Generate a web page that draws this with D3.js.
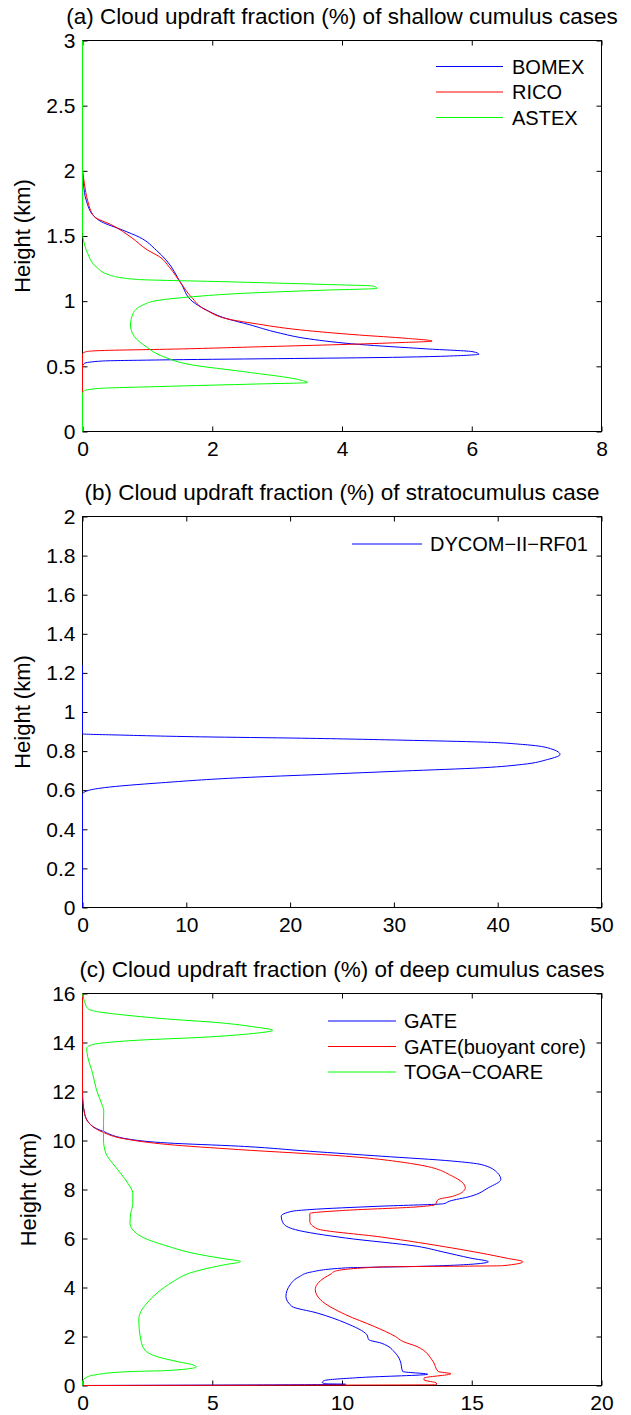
<!DOCTYPE html>
<html>
<head>
<meta charset="utf-8">
<script src="https://cdn.jsdelivr.net/npm/d3@7"></script>
<style>
  html, body { margin: 0; padding: 0; background: #fff; }
  svg { display: block; }
  text { font-family: "Liberation Sans", Arial, Helvetica, sans-serif; fill: #000; }
</style>
</head>
<body>
<svg id="fig" width="631" height="1415"></svg>
<script>
// Cloud updraft fraction profiles: each point is [fraction (%), height (km)], bottom to top.

// (a) shallow cumulus cases
const bomex = [[0,0],[0,0.50],[0.03,0.523],[0.31,0.541],[1.19,0.549],[4.78,0.569],[6.0,0.587],[6.11,0.592],
  [6.02,0.612],[5.30,0.634],[4.27,0.668],[3.50,0.71],[3.0,0.76],[2.57,0.82],[2.21,0.868],[1.91,0.932],
  [1.70,0.996],[1.52,1.136],[1.29,1.315],[1.14,1.39],[0.88,1.49],[0.62,1.545],[0.29,1.61],[0.18,1.65],
  [0.06,1.77],[0.015,1.90],[0,2.0]];
const rico = [[0,0],[0,0.595],[0.06,0.613],[0.42,0.623],[1.19,0.63],[2.73,0.65],[4.78,0.68],[5.39,0.694],
  [4.99,0.715],[4.27,0.74],[3.35,0.78],[2.63,0.83],[2.32,0.855],[1.91,0.93],[1.68,1.03],[1.52,1.136],
  [1.34,1.26],[1.19,1.34],[1.01,1.39],[0.75,1.49],[0.47,1.58],[0.18,1.65],[0.08,1.77],[0.03,1.90],[0,2.0]];
const astex = [[0,0],[0,0.294],[0.03,0.314],[0.31,0.332],[1.19,0.345],[2.73,0.365],[3.47,0.375],[3.35,0.396],
  [2.47,0.46],[1.70,0.51],[1.25,0.574],[0.98,0.651],[0.80,0.728],[0.74,0.817],[0.78,0.906],[0.93,0.97],
  [1.19,1.008],[1.70,1.034],[2.47,1.06],[3.76,1.085],[4.54,1.098],[4.48,1.116],[3.76,1.128],[2.21,1.149],
  [0.83,1.167],[0.42,1.20],[0.21,1.264],[0.08,1.366],[0.015,1.468],[0,1.52],[0,3.0]];

// (b) stratocumulus case
const dycom = [[0,0],[0,0.579],[0.4,0.596],[2.1,0.613],[7.6,0.638],[15.3,0.664],[23.1,0.681],[30.8,0.698],
  [38.6,0.715],[42.4,0.732],[44.8,0.757],[46.0,0.783],[44.8,0.817],[42.4,0.834],[38.6,0.846],[30.8,0.856],
  [21.1,0.866],[11.4,0.873],[3.7,0.882],[0,0.888],[0,1.24]];

// (c) deep cumulus cases
const gate = [[0,0],[10.14,0.05],[9.38,0.07],[9.24,0.12],[9.31,0.20],[10.78,0.33],[13.3,0.46],[12.34,0.57],
  [12.3,0.71],[12.27,0.91],[12.06,1.32],[11.51,1.73],[11.03,1.87],[10.96,2.07],[10.14,2.55],[9.04,2.96],
  [8.07,3.23],[7.84,3.64],[8.0,4.11],[8.37,4.45],[8.76,4.62],[10.14,4.80],[12.9,4.86],[15.12,4.96],
  [15.64,5.05],[14.95,5.2],[13.9,5.45],[12.9,5.68],[10.14,6.02],[8.21,6.36],[7.73,6.63],[7.66,6.91],
  [8.07,7.11],[8.76,7.18],[11.51,7.32],[13.92,7.42],[14.13,7.52],[14.95,7.72],[15.64,8.07],[16.12,8.41],
  [15.99,8.68],[15.36,9.02],[14.26,9.16],[11.51,9.36],[8.76,9.56],[6.01,9.77],[3.26,9.90],[1.88,10.04],
  [0.78,10.38],[0.37,10.59],[0.08,11.1],[0,11.92],[0,16]];
const gateCore = [[0,0],[13.64,0.03],[13.64,0.10],[13.16,0.23],[13.16,0.30],[14.2,0.48],[13.71,0.57],
  [13.51,0.98],[12.89,1.59],[12.34,1.80],[12.06,2.0],[11.24,2.41],[10.14,2.89],[9.17,3.5],[8.97,3.91],
  [9.31,4.39],[9.59,4.56],[9.72,4.66],[11.51,4.84],[16.19,4.89],[16.97,5.05],[16.33,5.2],[14.26,5.61],
  [11.51,6.06],[9.04,6.40],[8.76,6.70],[8.76,7.02],[10.14,7.15],[12.89,7.29],[13.58,7.38],[13.71,7.59],
  [14.26,7.72],[14.68,7.93],[14.75,8.07],[14.26,8.54],[12.89,9.02],[10.14,9.36],[6.01,9.63],[3.26,9.84],
  [1.61,10.07],[0.78,10.34],[0.37,10.59],[0.08,11.1],[0,11.92],[0,16]];
const togaCoare = [[0,0],[0,0.15],[0.1,0.30],[0.51,0.44],[1.88,0.57],[3.26,0.61],[4.39,0.76],[4.26,0.84],
  [3.64,0.98],[2.87,1.18],[2.40,1.45],[2.25,1.86],[2.17,2.68],[2.25,3.02],[2.48,3.36],[2.87,3.77],
  [3.49,4.24],[4.11,4.58],[4.57,4.72],[5.43,4.92],[6.09,5.06],[5.35,5.19],[4.26,5.40],[3.33,5.67],
  [2.40,6.01],[1.94,6.35],[1.83,6.62],[1.86,7.03],[1.94,7.44],[1.94,7.84],[1.75,8.25],[1.47,8.66],
  [1.16,9.07],[0.9,9.48],[0.81,10.02],[0.81,10.7],[0.82,11.24],[0.78,11.38],[0.54,12.06],[0.39,12.74],
  [0.2,13.42],[0.16,13.76],[0.31,13.89],[0.85,13.99],[2.25,14.1],[4.57,14.21],[6.59,14.37],[7.33,14.5],
  [6.59,14.64],[5.35,14.8],[3.02,14.98],[1.63,15.12],[0.62,15.25],[0.2,15.39],[0.08,15.66],[0,16]];

// Axis ticks
const xTicksA = [0, 2, 4, 6, 8];
const yTicksA = [0, 0.5, 1, 1.5, 2, 2.5, 3];
const xTicksB = [0, 10, 20, 30, 40, 50];
const yTicksB = [0, 0.2, 0.4, 0.6, 0.8, 1, 1.2, 1.4, 1.6, 1.8, 2];
const xTicksC = [0, 5, 10, 15, 20];
const yTicksC = [0, 2, 4, 6, 8, 10, 12, 14, 16];

// Titles and legend names
const titles = [
  "(a) Cloud updraft fraction (%) of shallow cumulus cases",
  "(b) Cloud updraft fraction (%) of stratocumulus case",
  "(c) Cloud updraft fraction (%) of deep cumulus cases"
];
const namesA = ["BOMEX", "RICO", "ASTEX"];
const namesB = ["DYCOM\u2212II\u2212RF01"];
const namesC = ["GATE", "GATE(buoyant core)", "TOGA\u2212COARE"];

const BLUE = "#0000ff", RED = "#ff0000", GREEN = "#00ff00";
const svg = d3.select("#fig");

const panels = [
  { title: titles[0], top: 40.5, bottom: 431.5, xMax: 8, yMax: 3, xTicks: xTicksA, yTicks: yTicksA,
    series: [bomex, rico, astex], colors: [BLUE, RED, GREEN], names: namesA,
    legend: { x0: 436, x1: 503, tx: 512, y: 66.5, dy: 25.5 }, ylabX: 30 },
  { title: titles[1], top: 516.5, bottom: 907.5, xMax: 50, yMax: 2, xTicks: xTicksB, yTicks: yTicksB,
    series: [dycom], colors: [BLUE], names: namesB,
    legend: { x0: 352, x1: 422, tx: 430, y: 544, dy: 25.5 }, ylabX: 30 },
  { title: titles[2], top: 993.5, bottom: 1385.5, xMax: 20, yMax: 16, xTicks: xTicksC, yTicks: yTicksC,
    series: [gate, gateCore, togaCoare], colors: [BLUE, RED, GREEN], names: namesC,
    legend: { x0: 328, x1: 396, tx: 404, y: 1021, dy: 25.5 }, ylabX: 36 }
];

const left = 82.5, right = 601.5, tick = 5;

panels.forEach(p => {
  const x = d3.scaleLinear().domain([0, p.xMax]).range([left, right]);
  const y = d3.scaleLinear().domain([0, p.yMax]).range([p.bottom, p.top]);
  const g = svg.append("g");

  // inward ticks on all four sides
  const fmt = d => String(d);
  g.append("g").attr("transform", `translate(0,${p.bottom})`)
    .call(d3.axisBottom(x).tickValues(p.xTicks).tickFormat(fmt).tickSizeInner(-tick).tickSizeOuter(0).tickPadding(10));
  g.append("g").attr("transform", `translate(0,${p.top})`)
    .call(d3.axisTop(x).tickValues(p.xTicks).tickFormat("").tickSizeInner(-tick).tickSizeOuter(0));
  g.append("g").attr("transform", `translate(${left},0)`)
    .call(d3.axisLeft(y).tickValues(p.yTicks).tickFormat(fmt).tickSizeInner(-tick).tickSizeOuter(0).tickPadding(7));
  g.append("g").attr("transform", `translate(${right},0)`)
    .call(d3.axisRight(y).tickValues(p.yTicks).tickFormat("").tickSizeInner(-tick).tickSizeOuter(0));
  g.selectAll(".domain").remove();
  g.selectAll(".tick line").attr("stroke", "#000").attr("stroke-width", 1);
  g.selectAll(".tick text").attr("font-size", 21).attr("fill", "#000")
    .attr("font-family", '"Liberation Sans", Arial, sans-serif');

  // axes box
  g.append("rect").attr("x", left).attr("y", p.top)
    .attr("width", right - left).attr("height", p.bottom - p.top)
    .attr("fill", "none").attr("stroke", "#000").attr("stroke-width", 1);

  // profiles
  const line = d3.line().x(d => x(d[0])).y(d => y(d[1])).curve(d3.curveMonotoneY);
  p.series.forEach((s, i) => {
    g.append("path").datum(s).attr("d", line)
      .attr("fill", "none").attr("stroke", p.colors[i]).attr("stroke-width", 1)
      .attr("stroke-linejoin", "round");
  });

  // title
  g.append("text").attr("x", (left + right) / 2).attr("y", p.top - 17)
    .attr("text-anchor", "middle").attr("font-size", 22.5).text(p.title);

  // y-axis label
  g.append("text")
    .attr("transform", `translate(${p.ylabX},${(p.top + p.bottom) / 2}) rotate(-90)`)
    .attr("text-anchor", "middle").attr("font-size", 22).text("Height (km)");

  // legend (no frame)
  p.names.forEach((n, i) => {
    const ly = p.legend.y + i * p.legend.dy;
    g.append("line").attr("x1", p.legend.x0).attr("x2", p.legend.x1)
      .attr("y1", ly).attr("y2", ly).attr("stroke", p.colors[i]).attr("stroke-width", 1);
    g.append("text").attr("x", p.legend.tx).attr("y", ly).attr("dy", "0.36em")
      .attr("font-size", 20).text(n);
  });
});
</script>
</body>
</html>
